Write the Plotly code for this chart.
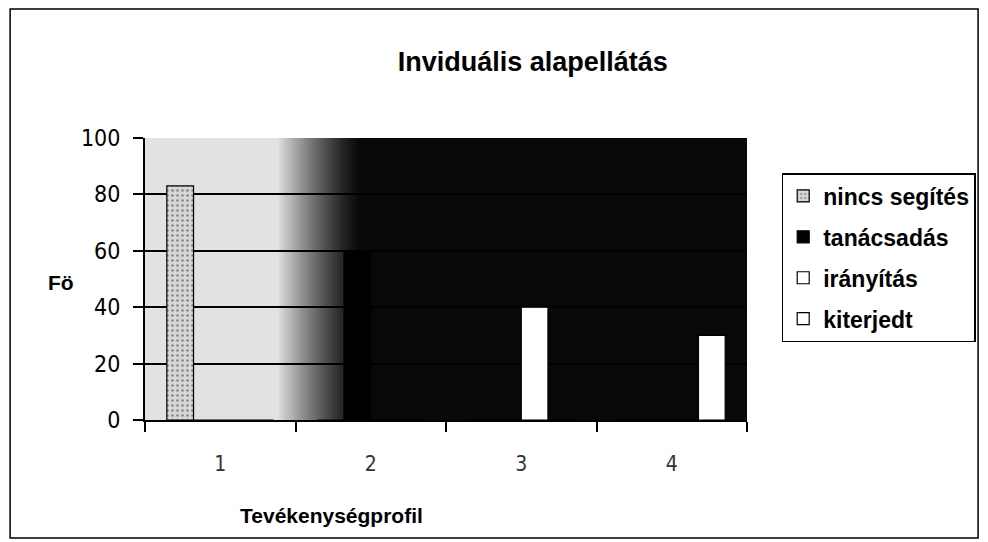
import plotly.graph_objects as go

categories = ["1", "2", "3", "4"]
series_names = ["nincs segítés", "tanácsadás", "irányítás", "kiterjedt"]
nincs_segites = [83, 0, 0, 0]
tanacsadas = [0, 60, 0, 0]
iranyitas = [0, 0, 40, 0]
kiterjedt = [0, 0, 0, 30]
y_ticks = [0, 20, 40, 60, 80, 100]

series_values = [nincs_segites, tanacsadas, iranyitas, kiterjedt]
fills = ["#d6d6d6", "#000000", "#ffffff", "#ffffff"]


def px_x(px):
    return (px - 145) / 607


def px_y(py):
    return (420 - py) / 282


fig = go.Figure()
for i, (name, vals) in enumerate(zip(series_names, series_values)):
    marker = dict(color=fills[i], line=dict(color="black", width=1.2))
    if i == 0:
        marker["pattern"] = dict(shape=".", fgcolor="#333333", bgcolor="#d6d6d6", size=5, solidity=0.2)
    fig.add_trace(go.Bar(x=categories, y=vals, name=name, marker=marker,
                         legendgroup=name, showlegend=True))

# gradient plot-area background (light grey -> black)
shapes = []
shapes.append(dict(type="rect", xref="x domain", yref="y domain", x0=0, x1=0.22, y0=0, y1=1,
                   fillcolor="#e2e2e2", line=dict(width=0), layer="below"))
n = 28
for k in range(n):
    a = 0.22 + 0.14 * k / n
    b = 0.22 + 0.14 * (k + 1) / n
    t = (k + 0.5) / n
    g = int(226 * (1 - t) ** 1.3 + 8 * t)
    shapes.append(dict(type="rect", xref="x domain", yref="y domain", x0=a, x1=b + 0.001, y0=0, y1=1,
                       fillcolor=f"rgb({g},{g},{g})", line=dict(width=0), layer="below"))
shapes.append(dict(type="rect", xref="x domain", yref="y domain", x0=0.36, x1=1, y0=0, y1=1,
                   fillcolor="#080808", line=dict(width=0), layer="below"))
# outer chart border
shapes.append(dict(type="rect", xref="paper", yref="paper", x0=px_x(9), x1=px_x(985), y0=px_y(538), y1=px_y(9),
                   line=dict(color="black", width=1.5), fillcolor="rgba(0,0,0,0)", layer="above"))

fig.update_layout(
    width=980, height=534,
    margin=dict(l=137, r=236, t=130, b=122),
    paper_bgcolor="white", plot_bgcolor="rgba(0,0,0,0)",
    barmode="group", bargap=0.29, bargroupgap=0,
    shapes=shapes,
    title=dict(text="<b>Inviduális alapellátás</b>", x=px_x(536), xref="paper", xanchor="center",
               y=1 - (62 - 8) / 534, yanchor="middle",
               font=dict(family="Arial, Liberation Sans, sans-serif", size=27, color="black")),
    legend=dict(x=px_x(787), y=px_y(173), xanchor="left", yanchor="top",
                bgcolor="white", bordercolor="black", borderwidth=1.5,
                font=dict(family="Arial, Liberation Sans, sans-serif", size=23, color="black", weight="bold"),
                tracegroupgap=8, traceorder="grouped", itemwidth=30),
    showlegend=True,
    annotations=[
        dict(text="<b>Tevékenységprofil</b>", xref="paper", yref="paper", x=px_x(333),
             y=px_y(515), xanchor="center", yanchor="middle", showarrow=False,
             font=dict(family="Arial, Liberation Sans, sans-serif", size=21, color="black")),
        dict(text="<b>Fö</b>", xref="paper", yref="paper", x=px_x(60),
             y=px_y(282), xanchor="center", yanchor="middle", showarrow=False,
             font=dict(family="Arial, Liberation Sans, sans-serif", size=21, color="black")),
    ],
)

fig.update_xaxes(type="category", showgrid=False, showline=True, linecolor="black", linewidth=2,
                 ticks="outside", tickson="boundaries", ticklen=10, tickwidth=2, tickcolor="black",
                 ticklabelstandoff=24,
                 tickfont=dict(family="Liberation Sans Narrow, Arial Narrow, DejaVu Sans Condensed, sans-serif",
                               size=21, color="#333333"))
fig.update_yaxes(range=[0, 100], tickvals=y_ticks, showgrid=True, gridcolor="black", gridwidth=2,
                 showline=True, linecolor="black", linewidth=2, zeroline=False,
                 ticks="outside", ticklen=10, tickwidth=2, tickcolor="black", ticklabelstandoff=8,
                 tickfont=dict(family="Liberation Sans Narrow, Arial Narrow, DejaVu Sans Condensed, sans-serif",
                               size=23, color="black"))

fig.write_html("out.html")
